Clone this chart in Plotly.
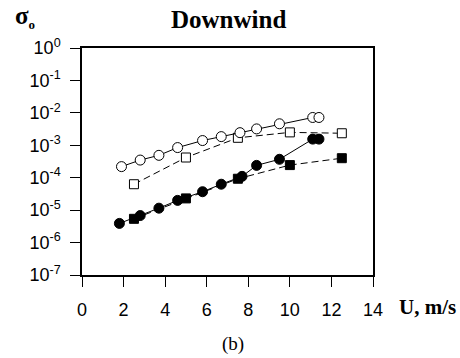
import plotly.graph_objects as go

# Data
u_open_circ = [1.9, 2.8, 3.7, 4.6, 5.8, 6.7, 7.6, 8.4, 9.5, 11.1, 11.4]
s_open_circ = [2.2e-4, 3.5e-4, 4.9e-4, 8.5e-4, 1.4e-3, 1.85e-3, 2.45e-3, 3.2e-3, 4.6e-3, 7.2e-3, 7.2e-3]

u_open_sq = [2.5, 5.0, 7.5, 10.0, 12.5]
s_open_sq = [6.3e-5, 4.2e-4, 1.7e-3, 2.5e-3, 2.35e-3]

u_fill_circ = [1.8, 2.8, 3.7, 4.6, 5.8, 6.7, 7.7, 8.4, 9.5, 11.1, 11.4]
s_fill_circ = [3.9e-6, 6.8e-6, 1.15e-5, 2.0e-5, 3.7e-5, 6.3e-5, 1.1e-4, 2.4e-4, 3.7e-4, 1.55e-3, 1.55e-3]

u_fill_sq = [2.5, 5.0, 7.5, 10.0, 12.5]
s_fill_sq = [5.4e-6, 2.3e-5, 9.3e-5, 2.45e-4, 4.0e-4]

x_ticks = [0, 2, 4, 6, 8, 10, 12, 14]
y_tickvals = [1e0, 1e-1, 1e-2, 1e-3, 1e-4, 1e-5, 1e-6, 1e-7]
y_ticktext = ["10<sup>0</sup>", "10<sup>-1</sup>", "10<sup>-2</sup>", "10<sup>-3</sup>",
              "10<sup>-4</sup>", "10<sup>-5</sup>", "10<sup>-6</sup>", "10<sup>-7</sup>"]

fig = go.Figure()

def add(x, y, symbol, fill, dash):
    fig.add_trace(go.Scatter(
        x=x, y=y, mode="lines+markers",
        line=dict(color="black", width=1, dash=dash),
        marker=dict(symbol=symbol, size=10 if "circle" in symbol else 9,
                    color=fill, line=dict(color="black", width=1)),
        showlegend=False))

add(u_open_sq, s_open_sq, "square", "white", "7px,4px")
add(u_fill_sq, s_fill_sq, "square", "black", "7px,4px")
add(u_open_circ, s_open_circ, "circle", "white", "solid")
add(u_fill_circ, s_fill_circ, "circle", "black", "solid")

fig.update_layout(
    width=460, height=358,
    margin=dict(l=82, r=87, t=48, b=83),
    paper_bgcolor="white", plot_bgcolor="white",
    font=dict(family="Liberation Sans", size=18, color="black"),
)
fig.update_xaxes(
    range=[0, 14], tickvals=x_ticks, ticks="outside", ticklen=10, tickwidth=1,
    tickcolor="black", showline=True, linecolor="black", linewidth=1.5,
    mirror=True, showgrid=False, zeroline=False, ticklabelstandoff=8,
    tickfont=dict(family="Liberation Sans", size=18, color="black"))
fig.update_yaxes(
    type="log", range=[-7, 0], tickvals=y_tickvals, ticktext=y_ticktext,
    ticks="outside", ticklen=10, tickwidth=1, tickcolor="black",
    showline=True, linecolor="black", linewidth=1.5, mirror=True,
    showgrid=False, zeroline=False, ticklabelstandoff=6,
    tickfont=dict(family="Liberation Sans", size=18, color="black"))

fig.add_annotation(text="<b>Downwind</b>", xref="paper", yref="paper",
                   x=(228 - 82) / 291, y=1 + (48 - 19) / 227, xanchor="center", yanchor="middle",
                   showarrow=False, font=dict(family="Liberation Serif", size=25, color="black"))
fig.add_annotation(text="<b>σ</b><sub><b><span style='font-size:13px'>o</span></b></sub>",
                   xref="paper", yref="paper",
                   x=(13 - 82) / 291, y=1 + (48 - 17) / 227, xanchor="left", yanchor="middle",
                   showarrow=False, font=dict(family="Liberation Serif", size=25, color="black"))
fig.add_annotation(text="<b>U, m/s</b>", xref="paper", yref="paper",
                   x=(397 - 82) / 291, y=-(307 - 275) / 227, xanchor="left", yanchor="middle",
                   showarrow=False, font=dict(family="Liberation Serif", size=21, color="black"))
fig.add_annotation(text="(b)", xref="paper", yref="paper",
                   x=(233 - 82) / 291, y=-(344 - 275) / 227, xanchor="center", yanchor="middle",
                   showarrow=False, font=dict(family="Liberation Serif", size=19, color="black"))

fig.write_html("out.html")
